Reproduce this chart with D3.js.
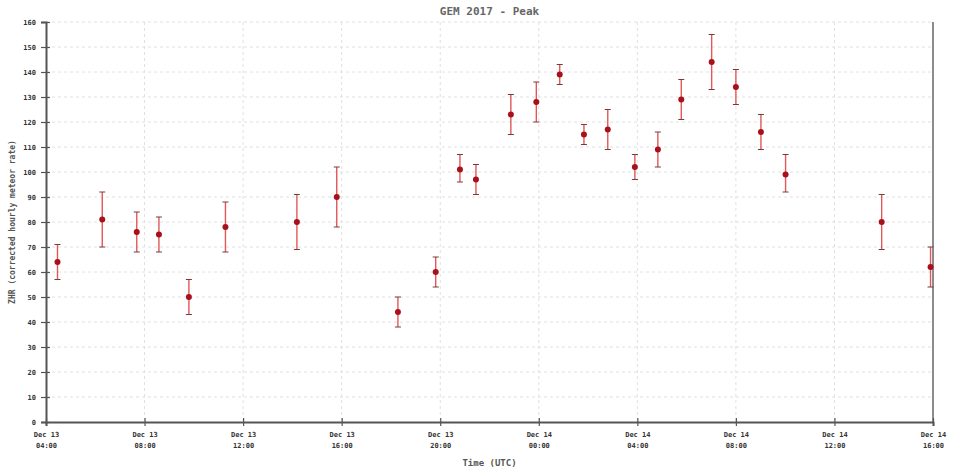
<!DOCTYPE html>
<html>
<head>
<meta charset="utf-8">
<script src="https://cdn.jsdelivr.net/npm/d3@7"></script>
<style>
  body { margin: 0; background: #fff; }
  svg { display: block; }
</style>
</head>
<body>
<div id="chart"></div>
<script>
// Data (UTC observation times, ZHR and its error range)
const times = [
    "2017-12-13T04:28Z", "2017-12-13T06:17Z", "2017-12-13T07:41Z", "2017-12-13T08:35Z",
    "2017-12-13T09:48Z", "2017-12-13T11:17Z", "2017-12-13T14:11Z", "2017-12-13T15:48Z",
    "2017-12-13T18:17Z", "2017-12-13T19:49Z", "2017-12-13T20:48Z", "2017-12-13T21:27Z",
    "2017-12-13T22:52Z", "2017-12-13T23:54Z", "2017-12-14T00:51Z", "2017-12-14T01:50Z",
    "2017-12-14T02:48Z", "2017-12-14T03:54Z", "2017-12-14T04:50Z", "2017-12-14T05:47Z",
    "2017-12-14T07:01Z", "2017-12-14T08:00Z", "2017-12-14T09:01Z", "2017-12-14T10:01Z",
    "2017-12-14T13:55Z", "2017-12-14T15:54Z"
];
const zhr =      [64, 81, 76, 75, 50, 78, 80, 90, 44, 60, 101, 97, 123, 128, 139, 115, 117, 102, 109, 129, 144, 134, 116, 99, 80, 62];
const zhrLow =   [57, 70, 68, 68, 43, 68, 69, 78, 38, 54,  96, 91, 115, 120, 135, 111, 109,  97, 102, 121, 133, 127, 109, 92, 69, 54];
const zhrHigh =  [71, 92, 84, 82, 57, 88, 91, 102, 50, 66, 107, 103, 131, 136, 143, 119, 125, 107, 116, 137, 155, 141, 123, 107, 91, 70];

const yTicks = d3.range(0, 161, 10);
const xStart = "2017-12-13T04:00Z";
const xEnd = "2017-12-14T16:00Z";

const width = 955;
const height = 471;
const margin = { top: 22, right: 22, bottom: 49, left: 46 };

const points = times.map((t, i) => ({
    time: new Date(t), value: zhr[i], low: zhrLow[i], high: zhrHigh[i]
}));

const svg = d3.select("#chart")
    .append("svg")
    .attr("width", width)
    .attr("height", height);

const x = d3.scaleUtc()
    .domain([new Date(xStart), new Date(xEnd)])
    .range([margin.left, width - margin.right]);

const y = d3.scaleLinear()
    .domain([0, 160])
    .range([height - margin.bottom, margin.top]);

const xTicks = d3.utcHour.every(4).range(new Date(xStart), d3.utcHour.offset(new Date(xEnd), 1));

// Grid
svg.append("g")
    .selectAll("line")
    .data(yTicks.slice(1))
    .enter().append("line")
    .attr("x1", margin.left)
    .attr("x2", width - margin.right)
    .attr("y1", d => y(d))
    .attr("y2", d => y(d))
    .attr("stroke", "#e0e0e0")
    .attr("stroke-width", 1)
    .attr("stroke-dasharray", "3,3");

svg.append("g")
    .selectAll("line")
    .data(xTicks.slice(1, -1))
    .enter().append("line")
    .attr("x1", d => x(d))
    .attr("x2", d => x(d))
    .attr("y1", margin.top)
    .attr("y2", height - margin.bottom)
    .attr("stroke", "#e0e0e0")
    .attr("stroke-width", 1)
    .attr("stroke-dasharray", "3,3");

// Right border
svg.append("line")
    .attr("x1", width - margin.right)
    .attr("x2", width - margin.right)
    .attr("y1", margin.top)
    .attr("y2", height - margin.bottom)
    .attr("stroke", "#666")
    .attr("stroke-width", 1.5);

// Axes
const fontMono = "'DejaVu Sans Mono', 'Liberation Mono', monospace";

const yAxis = svg.append("g")
    .attr("transform", `translate(${margin.left},0)`)
    .call(d3.axisLeft(y).tickValues(yTicks).tickSize(5).tickPadding(5));

yAxis.selectAll(".tick line").clone().attr("x2", 4);
yAxis.select(".domain").attr("stroke", "#555").attr("stroke-width", 2);
yAxis.selectAll(".tick line").attr("stroke", "#555").attr("stroke-width", 1.2);
yAxis.selectAll("text")
    .style("font-family", fontMono)
    .style("font-size", "7px")
    .style("font-weight", "bold")
    .attr("fill", "#333");

const fmtDay = d3.utcFormat("%b %d");
const fmtHour = d3.utcFormat("%H:%M");

const xAxis = svg.append("g")
    .attr("transform", `translate(0,${height - margin.bottom})`)
    .call(d3.axisBottom(x).tickValues(xTicks).tickSize(4).tickFormat(""));

xAxis.selectAll(".tick line").clone().attr("y2", -4);
xAxis.select(".domain").attr("stroke", "#555").attr("stroke-width", 2);
xAxis.selectAll(".tick line").attr("stroke", "#555").attr("stroke-width", 1.2);

const xLabels = xAxis.selectAll(".tick text")
    .style("font-family", fontMono)
    .style("font-size", "7px")
    .style("font-weight", "bold")
    .attr("fill", "#333")
    .attr("y", 10);

xLabels.append("tspan").attr("x", 0).attr("dy", "0.71em").text(d => fmtDay(d));
xLabels.append("tspan").attr("x", 0).attr("dy", "1.6em").text(d => fmtHour(d));

// Error bars
const bars = svg.append("g")
    .selectAll("g")
    .data(points)
    .enter().append("g");

bars.append("line")
    .attr("x1", d => x(d.time))
    .attr("x2", d => x(d.time))
    .attr("y1", d => y(d.low))
    .attr("y2", d => y(d.high))
    .attr("stroke", "#e05858")
    .attr("stroke-width", 1.4);

bars.selectAll(".cap")
    .data(d => [[d.time, d.low], [d.time, d.high]])
    .enter().append("line")
    .attr("class", "cap")
    .attr("x1", d => x(d[0]) - 3)
    .attr("x2", d => x(d[0]) + 3)
    .attr("y1", d => y(d[1]))
    .attr("y2", d => y(d[1]))
    .attr("stroke", "#7a3a3a")
    .attr("stroke-width", 1);

bars.append("circle")
    .attr("cx", d => x(d.time))
    .attr("cy", d => y(d.value))
    .attr("r", 3)
    .attr("fill", "#a8101c");

// Titles
svg.append("text")
    .attr("x", (margin.left + width - margin.right) / 2)
    .attr("y", 15)
    .attr("text-anchor", "middle")
    .style("font-family", fontMono)
    .style("font-size", "11px")
    .style("font-weight", "bold")
    .attr("fill", "#666")
    .text("GEM 2017 - Peak");

svg.append("text")
    .attr("x", (margin.left + width - margin.right) / 2)
    .attr("y", 466)
    .attr("text-anchor", "middle")
    .style("font-family", fontMono)
    .style("font-size", "9px")
    .style("font-weight", "bold")
    .attr("fill", "#555")
    .text("Time (UTC)");

svg.append("text")
    .attr("transform", `translate(15,${(margin.top + height - margin.bottom) / 2}) rotate(-90)`)
    .attr("text-anchor", "middle")
    .style("font-family", fontMono)
    .style("font-size", "8px")
    .style("font-weight", "bold")
    .attr("fill", "#555")
    .text("ZHR (corrected hourly meteor rate)");
</script>
</body>
</html>
